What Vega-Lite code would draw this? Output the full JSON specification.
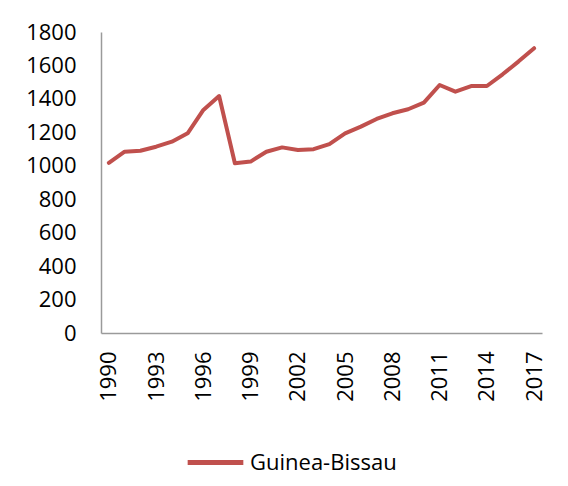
{
  "$schema": "https://vega.github.io/schema/vega-lite/v6.json",
  "width": 441,
  "height": 301,
  "autosize": {"type": "none"},
  "padding": {"left": 101, "top": 32, "right": 26, "bottom": 153},
  "background": "white",
  "data": {
    "values": [
      {"year": 1990, "value": 1018, "country": "Guinea-Bissau"},
      {"year": 1991, "value": 1084, "country": "Guinea-Bissau"},
      {"year": 1992, "value": 1090, "country": "Guinea-Bissau"},
      {"year": 1993, "value": 1114, "country": "Guinea-Bissau"},
      {"year": 1994, "value": 1144, "country": "Guinea-Bissau"},
      {"year": 1995, "value": 1194, "country": "Guinea-Bissau"},
      {"year": 1996, "value": 1334, "country": "Guinea-Bissau"},
      {"year": 1997, "value": 1417, "country": "Guinea-Bissau"},
      {"year": 1998, "value": 1015, "country": "Guinea-Bissau"},
      {"year": 1999, "value": 1025, "country": "Guinea-Bissau"},
      {"year": 2000, "value": 1084, "country": "Guinea-Bissau"},
      {"year": 2001, "value": 1110, "country": "Guinea-Bissau"},
      {"year": 2002, "value": 1094, "country": "Guinea-Bissau"},
      {"year": 2003, "value": 1099, "country": "Guinea-Bissau"},
      {"year": 2004, "value": 1130, "country": "Guinea-Bissau"},
      {"year": 2005, "value": 1194, "country": "Guinea-Bissau"},
      {"year": 2006, "value": 1234, "country": "Guinea-Bissau"},
      {"year": 2007, "value": 1280, "country": "Guinea-Bissau"},
      {"year": 2008, "value": 1314, "country": "Guinea-Bissau"},
      {"year": 2009, "value": 1338, "country": "Guinea-Bissau"},
      {"year": 2010, "value": 1378, "country": "Guinea-Bissau"},
      {"year": 2011, "value": 1483, "country": "Guinea-Bissau"},
      {"year": 2012, "value": 1443, "country": "Guinea-Bissau"},
      {"year": 2013, "value": 1477, "country": "Guinea-Bissau"},
      {"year": 2014, "value": 1477, "country": "Guinea-Bissau"},
      {"year": 2015, "value": 1547, "country": "Guinea-Bissau"},
      {"year": 2016, "value": 1623, "country": "Guinea-Bissau"},
      {"year": 2017, "value": 1703, "country": "Guinea-Bissau"}
    ]
  },
  "mark": {"type": "line", "strokeWidth": 4, "strokeCap": "round", "strokeJoin": "round"},
  "encoding": {
    "x": {
      "field": "year",
      "type": "ordinal",
      "scale": {"type": "point", "padding": 0.5},
      "axis": {
        "title": null,
        "values": [1990, 1993, 1996, 1999, 2002, 2005, 2008, 2011, 2014, 2017],
        "labelAngle": -90,
        "labelAlign": "right",
        "labelBaseline": "middle",
        "labelPadding": 18,
        "ticks": false,
        "domainColor": "#9a9a9a",
        "domainWidth": 1.5,
        "labelFont": "Open Sans",
        "labelFontSize": 22,
        "labelColor": "#000000",
        "grid": false
      }
    },
    "y": {
      "field": "value",
      "type": "quantitative",
      "scale": {"domain": [0, 1800]},
      "axis": {
        "title": null,
        "format": "d",
        "values": [0, 200, 400, 600, 800, 1000, 1200, 1400, 1600, 1800],
        "ticks": false,
        "labelPadding": 25,
        "domainColor": "#9a9a9a",
        "domainWidth": 1.5,
        "labelFont": "Open Sans",
        "labelFontSize": 22,
        "labelColor": "#000000",
        "grid": false
      }
    },
    "color": {
      "field": "country",
      "type": "nominal",
      "scale": {"range": ["#C0504D"]},
      "legend": {
        "title": null,
        "orient": "none",
        "legendX": 84,
        "legendY": 400,
        "symbolType": "stroke",
        "symbolSize": 3100,
        "symbolStrokeWidth": 5,
        "labelFont": "Open Sans",
        "labelFontSize": 22,
        "labelColor": "#000000",
        "labelOffset": 4
      }
    }
  },
  "config": {"view": {"stroke": null}}
}
